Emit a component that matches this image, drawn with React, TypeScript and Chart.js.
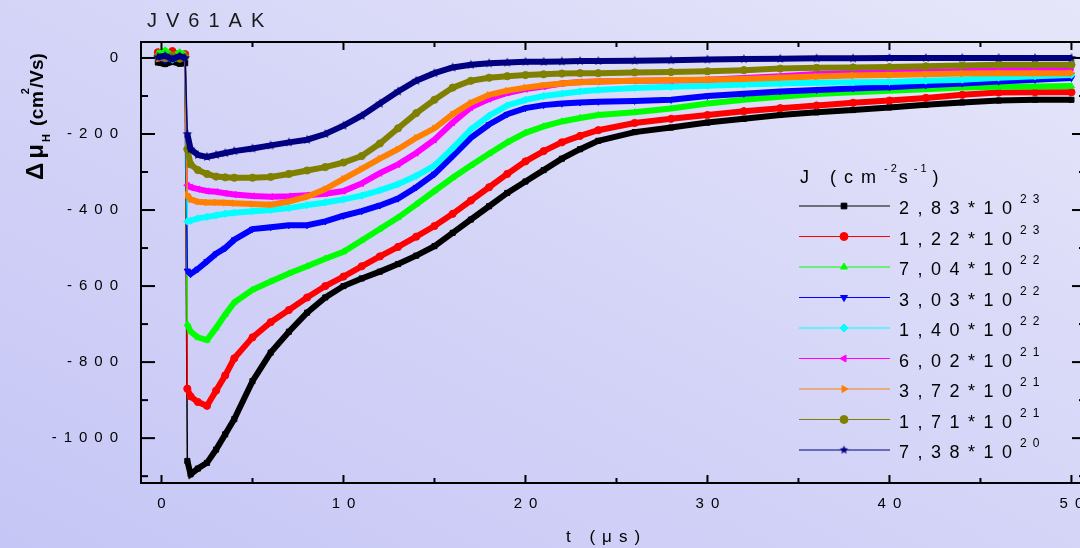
import React, { useEffect, useRef } from 'react';
import { Chart, registerables } from 'chart.js';
import { drawPoint } from 'chart.js/helpers';

Chart.register(...registerables);

// ---------- data ----------
const TITLE = 'JV61AK';
const T = [-0.2, 0.2, 0.6, 1.0, 1.3, 1.42, 1.6, 2, 2.5, 3, 3.5, 4, 5, 6, 7, 8, 9, 10, 11, 12, 13, 14, 15, 16, 17, 18, 19, 20, 21, 22, 23, 24, 26, 28, 30, 32, 34, 36, 38, 40, 42, 44, 46, 48, 50];

const S_283E23 = [-12, -16, -10, -15, -14, -1060, -1095, -1080, -1065, -1030, -990, -950, -850, -775, -720, -670, -630, -600, -580, -562, -542, -520, -495, -460, -425, -390, -355, -325, -295, -265, -240, -218, -195, -183, -170, -160, -150, -143, -137, -130, -123, -117, -112, -110, -110];
const S_122E23 = [15, 8, 18, 5, 10, -870, -890, -905, -915, -875, -835, -790, -735, -695, -663, -630, -600, -575, -548, -522, -497, -470, -442, -410, -375, -340, -305, -272, -245, -222, -205, -190, -171, -160, -150, -140, -132, -125, -118, -112, -105, -97, -91, -90, -90];
const S_704E22 = [12, 20, 5, 15, 8, -700, -720, -735, -742, -710, -675, -643, -610, -588, -567, -548, -528, -510, -480, -450, -420, -385, -350, -315, -283, -252, -222, -197, -180, -167, -158, -150, -143, -133, -120, -110, -102, -95, -90, -86, -82, -78, -76, -75, -74];
const S_303E22 = [2, -5, 6, -3, 0, -560, -568, -555, -535, -515, -500, -478, -450, -445, -440, -440, -430, -415, -403, -388, -370, -340, -305, -258, -210, -175, -148, -132, -124, -120, -117, -115, -113, -110, -100, -94, -88, -84, -80, -77, -72, -67, -62, -57, -53];
const S_140E22 = [0, 4, -4, 3, 1, -430, -428, -422, -418, -414, -410, -407, -403, -400, -395, -387, -380, -372, -362, -348, -332, -310, -283, -237, -188, -152, -125, -110, -100, -94, -88, -84, -79, -76, -73, -70, -67, -65, -64, -63, -60, -57, -52, -48, -45];
const S_602E21 = [3, -2, 5, 0, 2, -335, -340, -345, -350, -352, -356, -359, -363, -365, -364, -361, -357, -350, -330, -303, -280, -250, -215, -170, -130, -108, -92, -82, -75, -67, -63, -62, -60, -59, -57, -53, -48, -42, -39, -37, -36, -34, -32, -28, -26];
const S_372E21 = [-2, 3, -1, 4, 0, -360, -372, -378, -380, -380, -381, -382, -384, -386, -378, -365, -345, -318, -292, -265, -240, -210, -185, -148, -118, -97, -86, -78, -72, -67, -64, -62, -60, -58, -57, -55, -52, -49, -46, -45, -43, -41, -40, -40, -40];
const S_171E21 = [4, 0, 6, -2, 3, -240, -280, -295, -305, -312, -314, -315, -315, -313, -305, -296, -287, -275, -258, -225, -185, -145, -110, -78, -60, -52, -48, -45, -43, -41, -40, -40, -38, -37, -35, -32, -28, -26, -25, -24, -22, -20, -18, -18, -18];
const S_738E20 = [2, 6, -3, 5, 0, -200, -240, -255, -260, -255, -250, -245, -238, -230, -222, -215, -200, -178, -152, -120, -88, -60, -40, -25, -18, -14, -12, -10, -10, -9, -8, -8, -7, -6, -4, -3, -2, -1, -1, 0, 0, 0, 0, 0, 0];

const SERIES = [S_283E23, S_122E23, S_704E22, S_303E22, S_140E22, S_602E21, S_372E21, S_171E21, S_738E20];
const LEGEND_MANT = ['2,83', '1,22', '7,04', '3,03', '1,40', '6,02', '3,72', '1,71', '7,38'];
const LEGEND_EXP = ['23', '23', '22', '22', '22', '21', '21', '21', '20'];
const COLORS = ['#000000', '#ff0000', '#00ff00', '#0000ff', '#00ffff', '#ff00ff', '#ff8000', '#808000', '#000080'];
const MARKERS = ['rect', 'circle', 'triangle', 'triangle', 'rectRot', 'triangle', 'triangle', 'circle', 'star5'];
const ROTATIONS = [0, 0, 0, 180, 0, 270, 90, 0, 0];

const X_LABELS = [0, 10, 20, 30, 40, 50];
const Y_LABELS = [0, -200, -400, -600, -800, -1000];
const X_MIN = -1.126;
const X_MAX = 50.8;
const Y_MIN = -1118;
const Y_MAX = 42;

const FONT = '"Liberation Sans", Arial, Helvetica, sans-serif';

function makeStar(color: string, r: number) {
  const c = document.createElement('canvas');
  const s = Math.ceil(r * 2 + 2);
  c.width = s;
  c.height = s;
  const g = c.getContext('2d')!;
  g.fillStyle = color;
  g.beginPath();
  for (let i = 0; i < 10; i++) {
    const a = -Math.PI / 2 + (i * Math.PI) / 5;
    const rr = i % 2 === 0 ? r : r * 0.45;
    g.lineTo(s / 2 + rr * Math.cos(a), s / 2 + rr * Math.sin(a));
  }
  g.closePath();
  g.fill();
  return c;
}

function spaced(ctx: CanvasRenderingContext2D, text: string, x: number, y: number, spacing: number, align: string = 'left') {
  const chars = Array.from(text);
  const ws = chars.map((c) => ctx.measureText(c).width);
  const total = ws.reduce((a, b) => a + b, 0) + spacing * (chars.length - 1);
  let cx = align === 'left' ? x : align === 'right' ? x - total : x - total / 2;
  ctx.textAlign = 'left';
  chars.forEach((c, i) => {
    ctx.fillText(c, cx, y);
    cx += ws[i] + spacing;
  });
  return cx - spacing;
}

type Run = { text: string; font: string; dy?: number; spacing: number; gap: number };
function runs(ctx: CanvasRenderingContext2D, list: Run[], x: number, y: number) {
  let cx = x;
  list.forEach((r) => {
    ctx.font = r.font;
    cx = spaced(ctx, r.text, cx, y + (r.dy || 0), r.spacing, 'left') + r.gap;
  });
  return cx;
}

export default function App() {
  const ref = useRef<HTMLCanvasElement | null>(null);

  useEffect(() => {
    if (!ref.current) return;
    const star = makeStar('#000080', 5);
    const legendStar = makeStar('#000080', 4.5);
    const styles = MARKERS.map((m) => (m === 'star5' ? star : m));

    const decor = {
      id: 'decor',
      afterDraw(chart: any) {
        const { ctx, chartArea, scales } = chart;
        const { left, right, top, bottom } = chartArea;
        const x = scales.x;
        const y = scales.y;
        ctx.save();
        ctx.strokeStyle = '#000';
        ctx.lineWidth = 2;
        ctx.beginPath();
        ctx.moveTo(left, top);
        ctx.lineTo(right, top);
        ctx.lineTo(right, bottom);
        ctx.lineTo(left, bottom);
        ctx.closePath();
        ctx.stroke();
        const seg = (x1: number, y1: number, x2: number, y2: number) => {
          ctx.beginPath();
          ctx.moveTo(x1, y1);
          ctx.lineTo(x2, y2);
          ctx.stroke();
        };
        for (let v = 0; v <= 50; v += 5) {
          const px = x.getPixelForValue(v);
          const len = v % 10 === 0 ? 8 : 5;
          seg(px, bottom, px, bottom - len);
          seg(px, top, px, top + len);
        }
        for (let v = 0; v >= -1100; v -= 100) {
          const py = y.getPixelForValue(v);
          const len = v % 200 === 0 ? 14 : 7;
          seg(left, py, left + len, py);
          seg(right, py, right - len, py);
        }
        // tick labels
        ctx.fillStyle = '#000';
        ctx.textBaseline = 'middle';
        ctx.font = `15px ${FONT}`;
        X_LABELS.forEach((v) => {
          spaced(ctx, String(v), x.getPixelForValue(v), 504, 7, 'center');
        });
        Y_LABELS.forEach((v) => {
          spaced(ctx, String(v), 118, y.getPixelForValue(v), 7, 'right');
        });
        ctx.textBaseline = 'alphabetic';
        // title
        ctx.fillStyle = '#1a1a1a';
        ctx.font = `20px ${FONT}`;
        spaced(ctx, TITLE, 147, 27, 9, 'left');
        // x title
        ctx.fillStyle = '#000';
        ctx.font = `17px ${FONT}`;
        spaced(ctx, 't (μs)', 566, 542, 7, 'left');
        // y title (rotated)
        ctx.save();
        ctx.translate(43, 182);
        ctx.rotate(-Math.PI / 2);
        runs(ctx, [
          { text: 'Δμ', font: `bold 24px ${FONT}`, spacing: 4, gap: 2 },
          { text: 'H', font: `bold 11px ${FONT}`, dy: 7, spacing: 0, gap: 8 },
          { text: '(cm', font: `bold 19px ${FONT}`, spacing: 0.6, gap: -3 },
          { text: '2', font: `bold 11px ${FONT}`, dy: -14, spacing: 0, gap: 0 },
          { text: '/Vs)', font: `bold 19px ${FONT}`, spacing: 0, gap: 0 },
        ], 2, 0);
        ctx.restore();
        // legend header
        runs(ctx, [
          { text: 'J (cm', font: `18px ${FONT}`, spacing: 8, gap: 8 },
          { text: '-2', font: `11px ${FONT}`, dy: -11, spacing: 3, gap: 2 },
          { text: 's', font: `18px ${FONT}`, spacing: 8, gap: 6 },
          { text: '-1', font: `11px ${FONT}`, dy: -11, spacing: 3, gap: 6 },
          { text: ')', font: `18px ${FONT}`, spacing: 8, gap: 0 },
        ], 800, 183);
        // legend rows
        LEGEND_MANT.forEach((m, i) => {
          const ry = 206 + i * 30.5;
          ctx.strokeStyle = COLORS[i];
          ctx.fillStyle = COLORS[i];
          ctx.lineWidth = 1;
          seg(799, ry, 890, ry);
          drawPoint(ctx, {
            pointStyle: MARKERS[i] === 'star5' ? legendStar : MARKERS[i],
            radius: 4,
            rotation: ROTATIONS[i],
            borderWidth: 1,
          } as any, 844, ry);
          ctx.fillStyle = '#000';
          ctx.font = `18px ${FONT}`;
          const end = spaced(ctx, m + '*10', 899, ry + 8, 8.5, 'left');
          ctx.font = `12px ${FONT}`;
          spaced(ctx, LEGEND_EXP[i], end + 8, ry - 3, 6, 'left');
        });
        ctx.restore();
      },
    };

    const chart = new Chart(ref.current, {
      type: 'line',
      data: {
        datasets: SERIES.map((s, i) => ({
          label: LEGEND_MANT[i] + '*10^' + LEGEND_EXP[i],
          data: T.map((t, k) => ({ x: t, y: s[k] })),
          borderColor: COLORS[i],
          backgroundColor: COLORS[i],
          pointBackgroundColor: COLORS[i],
          pointBorderColor: COLORS[i],
          pointStyle: styles[i] as any,
          pointRotation: ROTATIONS[i],
          pointRadius: 3.6,
          pointBorderWidth: 1,
          borderWidth: 6,
          tension: 0,
          fill: false,
          order: SERIES.length - 1 - i,
          segment: {
            borderWidth: (c: any) => (c.p1.parsed.x - c.p0.parsed.x < 0.15 ? 1.5 : 6),
          },
        })),
      },
      options: {
        animation: false,
        responsive: false,
        events: [],
        layout: { padding: { left: 141, right: 10, top: 42, bottom: 65 } },
        plugins: { legend: { display: false }, tooltip: { enabled: false }, title: { display: false } },
        scales: {
          x: { type: 'linear', display: false, min: X_MIN, max: X_MAX },
          y: { type: 'linear', display: false, min: Y_MIN, max: Y_MAX },
        },
      },
      plugins: [decor],
    } as any);
    return () => chart.destroy();
  }, []);

  return (
    <div
      style={{
        position: 'absolute',
        left: 0,
        top: 0,
        width: 1080,
        height: 548,
        overflow: 'hidden',
        background: 'linear-gradient(to bottom left, #e6e6fa 0%, #d6d6f8 45%, #c6c6f6 100%)',
      }}
    >
      <canvas ref={ref} width={1096} height={548} style={{ display: 'block', width: 1096, height: 548 }} />
    </div>
  );
}
